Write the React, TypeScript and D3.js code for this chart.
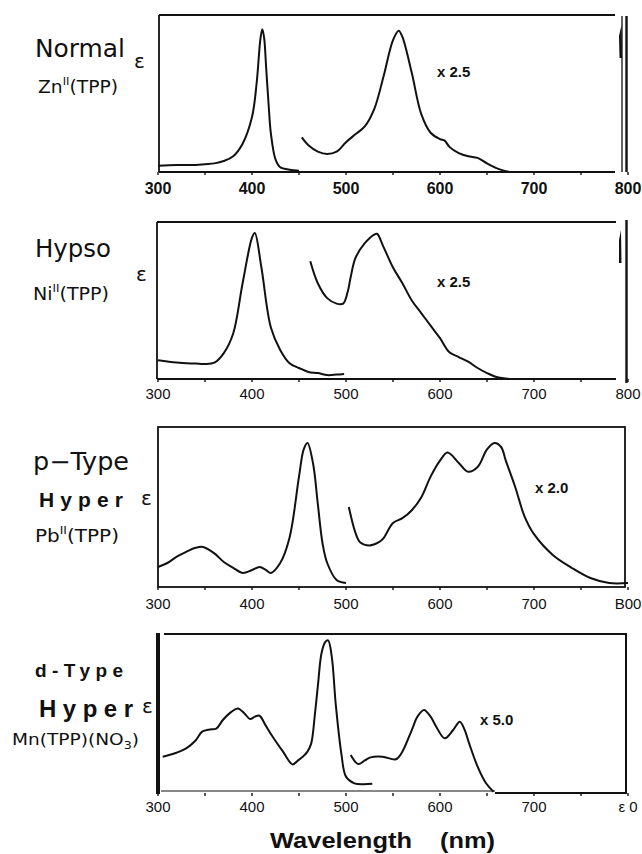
import React from "react";
import * as d3 from "d3";

type Pt = [number, number];

// Tick labels per panel (as printed in the scan)
const tickValues = [300, 400, 500, 600, 700, 800];
const tickLabels1 = ["300", "400", "500", "600", "700", "800"];
const tickLabels2 = ["300", "400", "500", "600", "700", "800"];
const tickLabels3 = ["300", "400", "500", "600", "700", "B00"];
const tickLabels4 = ["300", "400", "500", "600", "700", "ε 0"];
const minorTicks = [350, 450, 550, 650, 750];

// Zn(TPP) — normal
const znSoret: Pt[] = [
  [300, 4], [320, 4.5], [340, 4.5], [350, 5], [360, 5.5], [370, 7], [380, 10], [390, 18],
  [400, 35], [405, 57], [409, 85], [411, 91], [413, 85], [415, 67], [418, 40], [420, 25],
  [425, 8], [430, 3], [440, 1.5], [450, 0.8],
];
const znQ: Pt[] = [
  [453, 22], [460, 17], [470, 13], [480, 11.5], [490, 13], [500, 19], [510, 24], [520, 29],
  [530, 40], [540, 61], [550, 84], [556, 90], [560, 86], [570, 63], [580, 37], [590, 25],
  [600, 21], [605, 20], [610, 16], [620, 12], [630, 10], [640, 9], [650, 5.5], [660, 2.5],
  [670, 0.5], [675, 0],
];

// Ni(TPP) — hypso
const niSoret: Pt[] = [
  [300, 12], [320, 10.5], [340, 9.8], [350, 9.5], [360, 10.4], [370, 16.5], [380, 29],
  [390, 61], [400, 90], [403, 93], [410, 71], [420, 33], [430, 18.5], [440, 10], [450, 7],
  [460, 4.5], [470, 3.8], [480, 2.5], [490, 2.8], [498, 3.2],
];
const niQ: Pt[] = [
  [462, 75], [470, 61], [480, 51.5], [490, 48], [497, 48], [502, 56], [505, 65], [510, 77],
  [520, 86.5], [530, 92], [533, 92.5], [540, 84], [550, 71], [560, 61], [570, 50], [580, 42],
  [590, 34], [600, 26], [610, 17], [620, 14], [630, 11], [640, 7], [650, 3.8], [660, 1.3],
  [675, 0],
];

// Pb(TPP) — p-type hyper
const pbSoret: Pt[] = [
  [300, 12.5], [310, 15], [320, 19], [330, 22], [340, 24.5], [348, 25], [360, 21], [370, 15.6],
  [380, 12], [390, 8.8], [400, 10.6], [408, 12.5], [415, 10.6], [420, 8.8], [430, 15],
  [440, 31], [450, 69], [455, 86], [459, 90], [465, 77], [470, 52], [475, 27.5], [480, 15],
  [490, 4.4], [500, 2.5],
];
const pbQ: Pt[] = [
  [503, 50], [510, 34], [515, 28], [525, 26], [535, 28], [540, 30.6], [550, 40], [560, 43],
  [570, 48], [580, 56], [590, 69], [600, 79], [608, 84], [620, 77.5], [630, 72], [640, 75],
  [650, 86], [658, 90], [665, 87.5], [670, 79], [680, 62.5], [690, 44], [700, 33], [720, 20],
  [740, 12], [760, 5.6], [780, 2.5], [800, 2.5],
];

// Mn(TPP)(NO3) — d-type hyper
const mnSoret: Pt[] = [
  [305, 22.8], [318, 25], [330, 28.1], [340, 33], [347, 38.6], [355, 40], [362, 40.5],
  [369, 45.9], [378, 51], [385, 53.2], [392, 50], [398, 46.5], [403, 48], [408, 48.6],
  [414, 43], [422, 35.4], [433, 26], [443, 18], [449, 20.5], [454, 22.8], [459, 26],
  [463, 31.2], [467, 50], [470, 66.9], [474, 88], [478, 95], [481, 96], [485, 85],
  [489, 56.4], [495, 25], [500, 10.3], [509, 6.1], [518, 5.5], [528, 5.8],
];
const mnQ: Pt[] = [
  [505, 23.9], [513, 18.2], [520, 20.5], [526, 22.4], [539, 22.8], [553, 21.2], [559, 25],
  [570, 39.6], [576, 48], [583, 52.2], [590, 48], [596, 41.7], [605, 34.4], [614, 39.6],
  [621, 44.8], [626, 40], [631, 31.2], [640, 16.6], [649, 6.1], [657, 0.8],
];

const x = d3.scaleLinear().domain([300, 800]).range([158, 628]);

const line = (y: d3.ScaleLinear<number, number>) =>
  d3
    .line<Pt>()
    .x((d) => x(d[0]))
    .y((d) => y(d[1]))
    .curve(d3.curveCatmullRom.alpha(0.5));

const INK = "#111";

function TickRow({ labels, baseline, weight, size }: { labels: string[]; baseline: number; weight: string; size: number }) {
  return (
    <g fontFamily="Liberation Sans, Arial, sans-serif" fontSize={size} fontWeight={weight} fill={INK} textAnchor="middle">
      {tickValues.map((t, i) => (
        <text key={t} x={x(t)} y={baseline}>
          {labels[i]}
        </text>
      ))}
    </g>
  );
}

function Ticks({ bottom }: { bottom: number }) {
  return (
    <g stroke={INK} strokeWidth={1.4}>
      {tickValues.concat(minorTicks).map((t) => (
        <line key={t} x1={x(t)} x2={x(t)} y1={bottom} y2={bottom + 3} />
      ))}
    </g>
  );
}

export default function App() {
  const y1 = d3.scaleLinear().domain([0, 100]).range([172, 15]);
  const y2 = d3.scaleLinear().domain([0, 100]).range([379, 222]);
  const y3 = d3.scaleLinear().domain([0, 100]).range([587, 427]);
  const y4 = d3.scaleLinear().domain([0, 100]).range([793, 634]);

  const gothic = "DejaVu Sans, Liberation Sans, sans-serif";
  const arial = "Liberation Sans, Arial, sans-serif";

  return (
    <svg
      width={642}
      height={854}
      viewBox="0 0 642 854"
      style={{ position: "absolute", left: 0, top: 0, background: "#fff" }}
    >
      <rect x={0} y={0} width={642} height={854} fill="#fff" />

      {/* ---------- Panel 1: Normal ---------- */}
      <g fill="none" stroke={INK} strokeWidth={1.8}>
        <path d={`M159,15 H615`} />
        <path d={`M159,15 V172`} />
        <path d={`M159,172 H615`} />
        <path d={`M622,16 V172`} strokeWidth={1.3} />
        <path d={`M626.5,16 V172`} strokeWidth={2.4} />
      </g>
      <path d="M619.5,58 L619,36 L621.5,25 L622,58 Z" fill={INK} />
      <Ticks bottom={172} />
      <g fill="none" stroke={INK} strokeWidth={2}>
        <path d={line(y1)(znSoret) || ""} />
        <path d={line(y1)(znQ) || ""} />
      </g>
      <TickRow labels={tickLabels1} baseline={194} weight="bold" size={16} />
      <text x={437} y={77} fontFamily={arial} fontSize={15} fontWeight="bold" fill={INK}>x 2.5</text>
      <text x={35} y={57} fontFamily={gothic} fontSize={24} fill={INK} textLength={90} lengthAdjust="spacingAndGlyphs">Normal</text>
      <text x={38} y={93} fontFamily={gothic} fontSize={18} fill={INK} textLength={80} lengthAdjust="spacingAndGlyphs">
        Zn<tspan fontSize={11} dy={-8}>II</tspan><tspan dy={8}>(TPP)</tspan>
      </text>
      <text x={134} y={68} fontFamily={gothic} fontSize={20} fill={INK}>ε</text>

      {/* ---------- Panel 2: Hypso ---------- */}
      <g fill="none" stroke={INK} strokeWidth={1.8}>
        <path d={`M157,222 H616`} />
        <path d={`M157,222 V379`} />
        <path d={`M157,379 H616`} />
        <path d={`M626.5,220 V383`} strokeWidth={2.4} />
      </g>
      <path d="M619,263 L619,240 L621,230 L621.5,263 Z" fill={INK} />
      <Ticks bottom={379} />
      <g fill="none" stroke={INK} strokeWidth={2}>
        <path d={line(y2)(niSoret) || ""} />
        <path d={line(y2)(niQ) || ""} />
      </g>
      <TickRow labels={tickLabels2} baseline={399} weight="normal" size={15} />
      <text x={437} y={287} fontFamily={arial} fontSize={15} fontWeight="bold" fill={INK}>x 2.5</text>
      <text x={35} y={257} fontFamily={gothic} fontSize={24} fill={INK} textLength={76} lengthAdjust="spacingAndGlyphs">Hypso</text>
      <text x={33} y={300} fontFamily={gothic} fontSize={18} fill={INK} textLength={76} lengthAdjust="spacingAndGlyphs">
        Ni<tspan fontSize={11} dy={-8}>II</tspan><tspan dy={8}>(TPP)</tspan>
      </text>
      <text x={136} y={281} fontFamily={gothic} fontSize={20} fill={INK}>ε</text>

      {/* ---------- Panel 3: p-Type Hyper ---------- */}
      <g fill="none" stroke={INK} strokeWidth={1.8}>
        <rect x={158} y={427} width={467} height={160} />
      </g>
      <Ticks bottom={587} />
      <g fill="none" stroke={INK} strokeWidth={2}>
        <path d={line(y3)(pbSoret) || ""} />
        <path d={line(y3)(pbQ) || ""} />
      </g>
      <TickRow labels={tickLabels3} baseline={609} weight="normal" size={15} />
      <text x={535} y={493} fontFamily={arial} fontSize={15} fontWeight="bold" fill={INK}>x 2.0</text>
      <text x={33} y={470} fontFamily={gothic} fontSize={24} fill={INK} textLength={96} lengthAdjust="spacingAndGlyphs">p−Type</text>
      <text x={39} y={507} fontFamily={arial} fontSize={21} fontWeight="bold" fill={INK} textLength={84} lengthAdjust="spacing">Hyper</text>
      <text x={35} y={542} fontFamily={gothic} fontSize={18} fill={INK} textLength={84} lengthAdjust="spacingAndGlyphs">
        Pb<tspan fontSize={11} dy={-8}>II</tspan><tspan dy={8}>(TPP)</tspan>
      </text>
      <text x={141} y={505} fontFamily={gothic} fontSize={20} fill={INK}>ε</text>

      {/* ---------- Panel 4: d-Type Hyper ---------- */}
      <g fill="none" stroke={INK}>
        <path d={`M158,633 V794`} strokeWidth={4} />
        <path d={`M164,634 H627`} strokeWidth={2} />
        <path d={`M626,634 V793`} strokeWidth={2} />
        <path d={`M161,791 H495`} strokeWidth={1.2} />
        <path d={`M495,793 H627`} strokeWidth={2.2} />
      </g>
      <Ticks bottom={793} />
      <g fill="none" stroke={INK} strokeWidth={2}>
        <path d={line(y4)(mnSoret) || ""} />
        <path d={line(y4)(mnQ) || ""} />
      </g>
      <TickRow labels={tickLabels4} baseline={812} weight="normal" size={15} />
      <text x={480} y={725} fontFamily={arial} fontSize={15} fontWeight="bold" fill={INK}>x 5.0</text>
      <text x={35} y={677} fontFamily={arial} fontSize={19} fontWeight="bold" fill={INK} textLength={88} lengthAdjust="spacing">d-Type</text>
      <text x={39} y={717} fontFamily={arial} fontSize={24} fontWeight="bold" fill={INK} textLength={94} lengthAdjust="spacing">Hyper</text>
      <text x={12} y={745} fontFamily={gothic} fontSize={16} fill={INK} textLength={127} lengthAdjust="spacingAndGlyphs">
        Mn(TPP)(NO<tspan fontSize={11} dy={4}>3</tspan><tspan dy={-4}>)</tspan>
      </text>
      <text x={142} y={713} fontFamily={gothic} fontSize={20} fill={INK}>ε</text>

      {/* ---------- Axis title ---------- */}
      <text y={848} fontFamily={arial} fontSize={22} fontWeight="bold" fill={INK}>
        <tspan x={270} textLength={142} lengthAdjust="spacingAndGlyphs">Wavelength</tspan>
        <tspan x={440} textLength={55} lengthAdjust="spacingAndGlyphs">(nm)</tspan>
      </text>
    </svg>
  );
}
